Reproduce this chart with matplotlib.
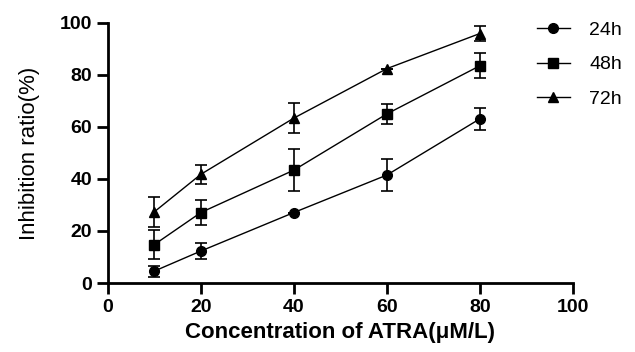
import numpy as np
import matplotlib.pyplot as plt
from matplotlib.lines import Line2D

plt.rcParams['font.family'] = ['Liberation Sans', 'DejaVu Sans']

conc = [10, 20, 40, 60, 80]
labels = ['24h', '48h', '72h']
markers = ['o', 's', '^']
means = [
    [4.6, 12.3, 27.1, 41.5, 63.1],
    [14.8, 27.1, 43.4, 65.0, 83.5],
    [27.4, 41.8, 63.4, 82.4, 95.9],
]
errs = [
    [2.1, 3.0, 0.0, 6.0, 4.3],
    [5.5, 4.8, 8.2, 4.0, 4.8],
    [5.8, 3.6, 5.8, 0.0, 3.0],
]

fig = plt.figure(figsize=(6.35, 3.52), dpi=100)
ax = fig.add_axes([0.170, 0.196, 0.732, 0.739])

handles = []
for m, e, mk, lab in zip(means, errs, markers, labels):
    ax.errorbar(conc, m, yerr=e, color='black', marker=mk, markersize=7,
                linewidth=1.0, elinewidth=1.2, capsize=4, capthick=1.2)
    handles.append(Line2D([], [], color='black', marker=mk, markersize=7,
                          linewidth=1.0))

ax.set_xlim(0, 100)
ax.set_ylim(0, 100)
ax.set_xticks([0, 20, 40, 60, 80, 100])
ax.set_yticks([0, 20, 40, 60, 80, 100])
for s in ['top', 'right']:
    ax.spines[s].set_visible(False)
for s in ['left', 'bottom']:
    ax.spines[s].set_linewidth(2)
ax.tick_params(width=2, length=8, pad=3.5, labelsize=14)
for t in ax.get_xticklabels() + ax.get_yticklabels():
    t.set_fontweight('bold')

ax.set_xlabel('Concentration of ATRA(μM/L)', fontsize=16, fontweight='bold',
              labelpad=4)
ax.set_ylabel('Inhibition ratio(%)', fontsize=16, labelpad=14)

fig.legend(handles, labels, loc='upper left', bbox_to_anchor=(0.845, 0.94),
           frameon=False, fontsize=14, handlelength=1.7, handletextpad=1.0,
           labelspacing=0.88, borderpad=0, borderaxespad=0)

fig.savefig('out.png', dpi=100)
